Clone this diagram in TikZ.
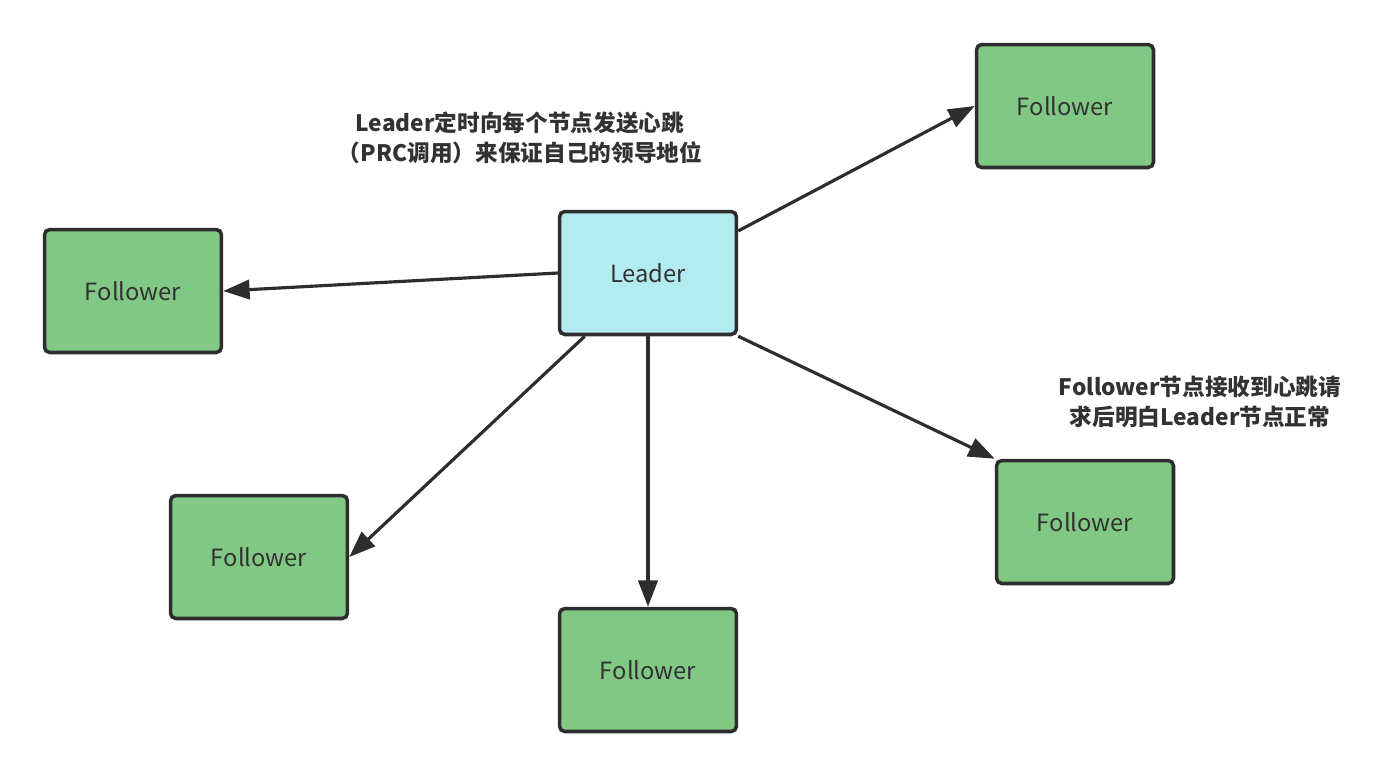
\documentclass[tikz,border=0pt]{standalone}
\usepackage{fontspec}
\setmainfont{Noto Sans CJK SC}
\usepackage{xcolor}
\usetikzlibrary{arrows.meta, positioning, shapes}
\definecolor{leadercol}{RGB}{178, 235, 240}
\definecolor{followcol}{RGB}{130, 200, 133}
\definecolor{edgecol}{RGB}{45, 45, 45}
\definecolor{txtcol}{RGB}{50, 50, 50}

\tikzset{
  box/.style={draw=edgecol, line width=2pt, rounded corners=3pt,
    minimum width=3.54cm, minimum height=2.46cm, text=txtcol,
    font=\fontsize{13.5}{16}\selectfont},
  leaderbox/.style={box, fill=leadercol},
  followbox/.style={box, fill=followcol},
  beat/.style={-{Triangle[length=15pt,width=11pt]}, draw=edgecol, line width=1.8pt},
  note/.style={align=center, text=txtcol, font=\fontsize{12.9}{17}\selectfont\bfseries}
}

\begin{document}
\begin{tikzpicture}[x=0.02cm,y=-0.02cm]
        \useasboundingbox (0,0) rectangle (1400,778);
        \node[leaderbox] (leader) at (648,273) {Leader};
        \node[followbox] (ftr) at (1065,106) {Follower};
        \node[followbox] (fl) at (133,291) {Follower};
        \node[followbox] (fbl) at (259,557) {Follower};
        \node[followbox] (fb) at (648,670) {Follower};
        \node[followbox] (fr) at (1085,522) {Follower};
        % heartbeats
        \draw[beat] (leader.25.6) -- (ftr.west);
        \draw[beat] (leader.west) -- (fl.east);
        \draw[beat] (leader.-135) -- (fbl.east);
        \draw[beat] (leader.south) -- (fb.north);
        \draw[beat] (leader.south east) -- (fr.north west);
        \node[note] (sendnote) at (520,138) {Leader定时向每个节点发送心跳\\（PRC调用）来保证自己的领导地位};
        \node[note] (recvnote) at (1200,402) {Follower节点接收到心跳请\\求后明白Leader节点正常};
      \end{tikzpicture}
\end{document}
